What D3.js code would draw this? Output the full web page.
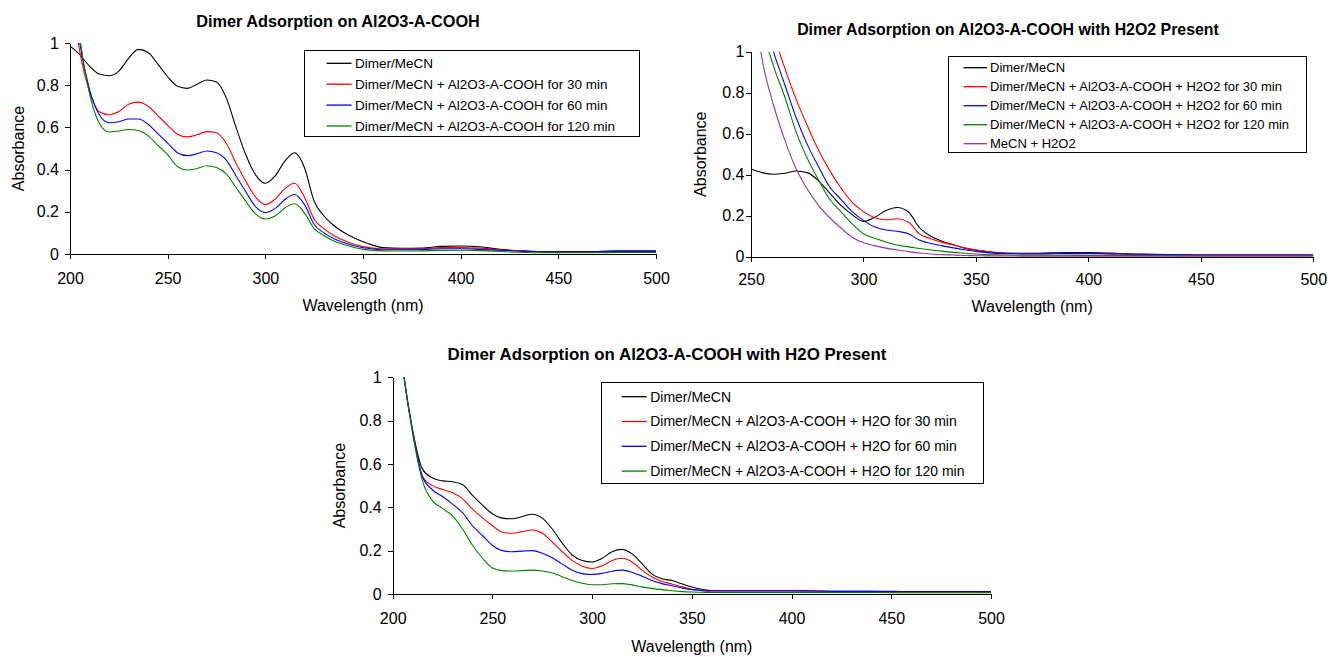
<!DOCTYPE html>
<html>
<head>
<meta charset="utf-8">
<script src="https://cdn.jsdelivr.net/npm/d3@7"></script>
<style>
body { margin: 0; background: #fff; }
svg { display: block; font-family: Arial, "Liberation Sans", sans-serif; }
</style>
</head>
<body>
<svg id="chart" width="1330" height="657"></svg>
<script>
// wavelengths (nm)
var wlA = [200,205,210,215,220,225,230,235,240,245,250,255,260,265,270,275,280,285,290,295,
           300,305,310,315,320,325,330,335,340,345,350,355,360,
           370,380,390,400,410,420,430,440,450,460,470,480,490,500];
var wlB = [250,255,260,265,270,275,280,285,290,295,
           300,305,310,315,320,325,330,335,340,345,350,355,360,
           370,380,390,400,410,420,430,440,450,460,470,480,490,500];

var yTicks = [0, 0.2, 0.4, 0.6, 0.8, 1];
var xTicksA = [200, 250, 300, 350, 400, 450, 500];
var xTicksB = [250, 300, 350, 400, 450, 500];

// chart 1 - no additive
var dimer1 = [0.985,0.945,0.89,0.853,0.845,0.867,0.927,0.97,0.955,0.9,
              0.84,0.795,0.785,0.805,0.825,0.815,0.74,0.6,0.47,0.375,
              0.335,0.37,0.44,0.48,0.41,0.25,0.18,0.135,0.103,0.078,0.058,0.042,0.03,
              0.027,0.028,0.036,0.038,0.034,0.022,0.016,0.012,0.012,0.012,0.012,0.015,0.015,0.015];
var min30_1 = [1.3,0.96,0.77,0.674,0.66,0.675,0.71,0.72,0.7,0.655,
               0.61,0.568,0.555,0.565,0.58,0.575,0.525,0.43,0.345,0.27,
               0.234,0.26,0.31,0.335,0.27,0.165,0.12,0.088,0.065,0.047,0.035,0.028,0.025,
               0.024,0.025,0.03,0.03,0.028,0.02,0.015,0.01,0.008,0.008,0.008,0.01,0.01,0.01];
var min60_1 = [1.4,1.0,0.78,0.66,0.622,0.627,0.64,0.64,0.615,0.57,
               0.525,0.48,0.466,0.475,0.488,0.48,0.445,0.37,0.295,0.225,
               0.197,0.215,0.258,0.282,0.235,0.14,0.1,0.073,0.054,0.04,0.03,0.024,0.02,
               0.02,0.021,0.025,0.025,0.022,0.018,0.014,0.011,0.01,0.01,0.01,0.012,0.012,0.012];
var min120_1 = [1.45,1.03,0.76,0.62,0.578,0.583,0.59,0.585,0.56,0.515,
                0.47,0.415,0.398,0.405,0.418,0.41,0.38,0.315,0.25,0.19,
                0.166,0.18,0.218,0.238,0.195,0.12,0.088,0.062,0.045,0.032,0.022,0.017,0.015,
                0.014,0.015,0.017,0.018,0.016,0.012,0.008,0.006,0.006,0.006,0.006,0.007,0.007,0.007];

// chart 2 - with H2O2
var dimer2 = [0.428,0.41,0.402,0.407,0.418,0.41,0.37,0.31,0.25,0.205,
              0.172,0.192,0.225,0.24,0.218,0.14,0.1,0.075,0.058,0.042,0.032,0.025,0.019,
              0.016,0.018,0.02,0.02,0.018,0.012,0.01,0.008,0.008,0.008,0.008,0.008,0.008,0.008];
var min30_2 = [1.5,1.28,1.09,0.92,0.77,0.64,0.52,0.42,0.335,0.265,
               0.22,0.19,0.18,0.185,0.168,0.11,0.088,0.07,0.057,0.043,0.032,0.025,0.02,
               0.015,0.015,0.016,0.016,0.014,0.012,0.01,0.01,0.008,0.008,0.008,0.008,0.008,0.008];
var min60_2 = [1.45,1.2,1.0,0.84,0.68,0.548,0.44,0.34,0.28,0.22,
               0.177,0.145,0.13,0.124,0.112,0.08,0.064,0.053,0.043,0.034,0.026,0.02,0.016,
               0.014,0.014,0.015,0.015,0.014,0.013,0.012,0.01,0.008,0.008,0.008,0.008,0.008,0.008];
var min120_2 = [1.4,1.12,0.93,0.78,0.61,0.48,0.375,0.28,0.22,0.16,
                0.112,0.09,0.072,0.057,0.048,0.04,0.033,0.027,0.021,0.017,0.013,0.01,0.009,
                0.007,0.007,0.007,0.006,0.006,0.006,0.006,0.005,0.005,0.005,0.005,0.005,0.005,0.005];
var h2o2Only = [1.35,0.96,0.74,0.57,0.43,0.33,0.25,0.19,0.14,0.095,
                0.068,0.054,0.042,0.033,0.025,0.018,0.013,0.01,0.008,0.006,0.005,0.004,0.004,
                0.003,0.003,0.003,0.003,0.003,0.003,0.003,0.003,0.003,0.003,0.003,0.003,0.003,0.003];

// chart 3 - with H2O
var dimer3 = [1.5,1.05,0.755,0.575,0.535,0.522,0.518,0.505,0.455,0.41,
              0.37,0.35,0.347,0.358,0.368,0.35,0.3,0.235,0.18,0.155,
              0.148,0.165,0.195,0.206,0.185,0.14,0.092,0.07,0.062,0.047,0.032,0.022,0.016,
              0.015,0.015,0.015,0.015,0.014,0.013,0.012,0.012,0.012,0.011,0.011,0.011,0.011,0.011];
var min30_3 = [1.5,1.05,0.755,0.54,0.5,0.482,0.467,0.44,0.392,0.352,
               0.315,0.285,0.28,0.288,0.295,0.28,0.24,0.195,0.155,0.128,
               0.118,0.13,0.155,0.165,0.148,0.11,0.078,0.058,0.046,0.033,0.022,0.015,0.01,
               0.009,0.009,0.009,0.009,0.009,0.008,0.008,0.007,0.006,0.006,0.006,0.006,0.006,0.006];
var min60_3 = [1.5,1.05,0.75,0.54,0.48,0.45,0.415,0.375,0.315,0.27,
               0.225,0.2,0.195,0.198,0.2,0.188,0.167,0.138,0.11,0.094,
               0.09,0.095,0.105,0.11,0.1,0.082,0.062,0.048,0.038,0.028,0.02,0.017,0.016,
               0.015,0.015,0.015,0.015,0.015,0.013,0.012,0.012,0.01,0.01,0.01,0.01,0.01,0.01];
var min120_3 = [1.5,1.05,0.74,0.52,0.43,0.395,0.36,0.3,0.225,0.165,
                0.12,0.108,0.106,0.108,0.11,0.106,0.097,0.08,0.062,0.05,
                0.043,0.043,0.047,0.048,0.042,0.033,0.026,0.02,0.015,0.011,0.009,0.008,0.007,
                0.007,0.007,0.007,0.007,0.007,0.007,0.007,0.007,0.007,0.007,0.007,0.007,0.007,0.007];

var names1 = ['Dimer/MeCN', 'Dimer/MeCN + Al2O3-A-COOH for 30 min',
              'Dimer/MeCN + Al2O3-A-COOH for 60 min', 'Dimer/MeCN + Al2O3-A-COOH for 120 min'];
var names2 = ['Dimer/MeCN', 'Dimer/MeCN + Al2O3-A-COOH + H2O2 for 30 min',
              'Dimer/MeCN + Al2O3-A-COOH + H2O2 for 60 min', 'Dimer/MeCN + Al2O3-A-COOH + H2O2 for 120 min',
              'MeCN + H2O2'];
var names3 = ['Dimer/MeCN', 'Dimer/MeCN + Al2O3-A-COOH + H2O for 30 min',
              'Dimer/MeCN + Al2O3-A-COOH + H2O for 60 min', 'Dimer/MeCN + Al2O3-A-COOH + H2O for 120 min'];
var colors = ['#000000', '#ff0000', '#0000ff', '#008000', '#993399'];

var svg = d3.select('#chart');

var panels = [
  {id: 1, title: 'Dimer Adsorption on Al2O3-A-COOH', titleX: 338, titleY: 26.5, titleSize: 16.3,
   left: 70, right: 656, top: 43, bottom: 254, wl: wlA, xTicks: xTicksA,
   series: [dimer1, min30_1, min60_1, min120_1], names: names1,
   yPad: 6, xPad: 13.5, yLabelX: 18, xLabelY: 311,
   leg: {x: 304.5, y: 50, w: 335, h: 86, first: 13.3, step: 20.9, l0: 22, l1: 47, tx: 50.5, size: 13.5}},
  {id: 2, title: 'Dimer Adsorption on Al2O3-A-COOH with H2O2 Present', titleX: 1008, titleY: 35, titleSize: 15.9,
   left: 751, right: 1313.3, top: 51.7, bottom: 256.7, wl: wlB, xTicks: xTicksB,
   series: [dimer2, min30_2, min60_2, min120_2, h2o2Only], names: names2,
   yPad: 1.5, xPad: 11.5, yLabelX: 700, xLabelY: 311.5,
   leg: {x: 948.5, y: 56, w: 358, h: 96.3, first: 11.7, step: 19, l0: 15, l1: 38.5, tx: 41.5, size: 13}},
  {id: 3, title: 'Dimer Adsorption on Al2O3-A-COOH with H2O Present', titleX: 667, titleY: 360, titleSize: 16.9,
   left: 392.7, right: 991, top: 377.3, bottom: 594, wl: wlA, xTicks: xTicksA,
   series: [dimer3, min30_3, min60_3, min120_3], names: names3,
   yPad: 6, xPad: 13.5, yLabelX: 339, xLabelY: 651.5,
   leg: {x: 601.7, y: 382.7, w: 381.6, h: 100.6, first: 14, step: 24.8, l0: 20, l1: 45, tx: 48.5, size: 14}}
];

var defs = svg.append('defs');

panels.forEach(function(p) {
  var x = d3.scaleLinear().domain([p.wl[0], 500]).range([p.left, p.right]);
  var y = d3.scaleLinear().domain([0, 1]).range([p.bottom, p.top]);
  var g = svg.append('g');

  defs.append('clipPath').attr('id', 'clip' + p.id)
    .append('rect')
    .attr('x', p.left).attr('y', p.top)
    .attr('width', p.right - p.left).attr('height', p.bottom - p.top + 4);

  // title
  g.append('text')
    .attr('x', p.titleX).attr('y', p.titleY)
    .attr('text-anchor', 'middle')
    .style('font-weight', 'bold')
    .style('font-size', p.titleSize + 'px')
    .text(p.title);

  // curves
  var line = d3.line()
    .x(function(d, i) { return x(p.wl[i]); })
    .y(function(d) { return y(d); })
    .curve(d3.curveMonotoneX);

  g.append('g').attr('clip-path', 'url(#clip' + p.id + ')')
    .selectAll('path').data(p.series).enter().append('path')
    .attr('d', line)
    .attr('fill', 'none')
    .attr('stroke', function(d, i) { return colors[i]; })
    .attr('stroke-width', 1.1);

  // axes
  var xAxis = g.append('g')
    .attr('transform', 'translate(0,' + p.bottom + ')')
    .call(d3.axisBottom(x).tickValues(p.xTicks).tickSize(5).tickSizeOuter(0)
      .tickPadding(p.xPad).tickFormat(d3.format('d')));
  var yAxis = g.append('g')
    .attr('transform', 'translate(' + p.left + ',0)')
    .call(d3.axisLeft(y).tickValues(yTicks).tickSize(5).tickSizeOuter(0)
      .tickPadding(p.yPad).tickFormat(function(d) { return String(d); }));
  [xAxis, yAxis].forEach(function(a) {
    a.selectAll('text').style('font-size', '16px').style('font-family', 'Arial, "Liberation Sans", sans-serif').attr('fill', '#000');
    a.selectAll('line, path').attr('stroke', '#000').attr('shape-rendering', 'crispEdges');
  });

  // axis titles
  g.append('text')
    .attr('x', (p.left + p.right) / 2).attr('y', p.xLabelY)
    .attr('text-anchor', 'middle')
    .style('font-size', '16px')
    .text('Wavelength (nm)');
  g.append('text')
    .attr('transform', 'translate(' + p.yLabelX + ',' + ((p.top + p.bottom) / 2) + ') rotate(-90)')
    .attr('text-anchor', 'middle')
    .attr('dy', '0.35em')
    .style('font-size', '16px')
    .text('Absorbance');

  // legend
  var L = p.leg;
  var lg = g.append('g').attr('transform', 'translate(' + L.x + ',' + L.y + ')');
  lg.append('rect')
    .attr('width', L.w).attr('height', L.h)
    .attr('fill', '#fff').attr('stroke', '#000').attr('stroke-width', 1)
    .attr('shape-rendering', 'crispEdges');
  var rows = lg.selectAll('g.row').data(p.names).enter().append('g')
    .attr('class', 'row')
    .attr('transform', function(d, i) { return 'translate(0,' + (L.first + i * L.step) + ')'; });
  rows.append('line')
    .attr('x1', L.l0).attr('x2', L.l1)
    .attr('stroke', function(d, i) { return colors[i]; })
    .attr('stroke-width', 1.3);
  rows.append('text')
    .attr('x', L.tx).attr('dy', '0.35em')
    .style('font-size', L.size + 'px')
    .text(function(d) { return d; });
});
</script>
</body>
</html>
